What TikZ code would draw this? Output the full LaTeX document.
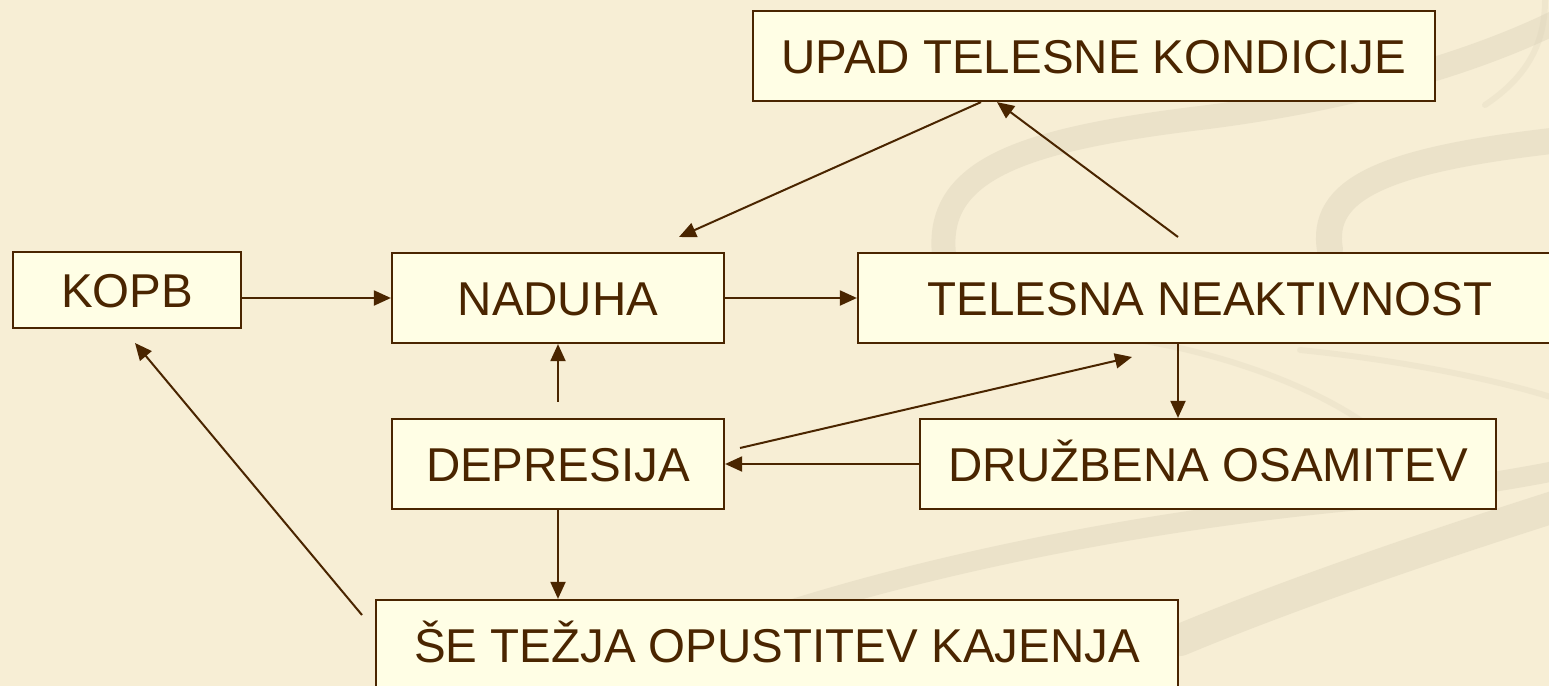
\documentclass[tikz,border=0pt]{standalone}
\usepackage{fontspec}
\setmainfont{Liberation Sans}
\usetikzlibrary{arrows.meta}
\definecolor{bg}{HTML}{F7EED5}
\definecolor{boxfill}{HTML}{FFFEE5}
\definecolor{ink}{HTML}{4A2500}
\definecolor{swooshc}{HTML}{D9D1B9}
\tikzset{
  box/.style={draw=ink, fill=boxfill, line width=1.1pt, text=ink, inner sep=0pt,
    font=\fontsize{23.75}{28}\selectfont, text height=17pt, text depth=0pt,
    minimum height=45pt},
  conn/.style={draw=ink, line width=1pt, -{Triangle[length=8.5pt,width=7.5pt]}},
  swoosh/.style={draw=swooshc, line cap=round, opacity=0.4},
}
\begin{document}
\begin{tikzpicture}[x=0.5pt,y=-0.5pt]
\useasboundingbox (0,0) rectangle (1549,686);
\clip (0,0) rectangle (1549,686);
\fill[bg] (0,0) rectangle (1549,686);
% background swooshes
\draw[swoosh, line width=12pt] (945,262) .. controls (930,170) and (1020,140) .. (1200,118) .. controls (1380,96) and (1500,50) .. (1560,20);
\draw[swoosh, line width=13pt] (1330,250) .. controls (1320,190) and (1380,160) .. (1560,140);
\draw[swoosh, line width=3pt, opacity=0.25] (1485,105) .. controls (1530,75) and (1545,40) .. (1545,0);
\draw[swoosh, line width=3pt, opacity=0.25] (1100,335) .. controls (1200,345) and (1300,380) .. (1360,420);
\draw[swoosh, line width=3pt, opacity=0.25] (1300,350) .. controls (1400,360) and (1500,380) .. (1560,400);
\draw[swoosh, line width=10pt] (790,610) .. controls (950,560) and (1150,520) .. (1360,500) .. controls (1450,490) and (1520,478) .. (1560,470);
\draw[swoosh, line width=16pt] (1180,640) .. controls (1300,590) and (1450,540) .. (1560,505);
% nodes
\node[box, minimum width=114pt, minimum height=38pt] (kopb) at (127,290) {KOPB};
\node[box, minimum width=166pt] (naduha) at (558,298) {NADUHA};
\node[box, minimum width=352pt] (telesna) at (1210,298) {TELESNA NEAKTIVNOST};
\node[box, minimum width=341pt] (upad) at (1094,56) {UPAD TELESNE KONDICIJE};
\node[box, minimum width=166pt] (depresija) at (558,464) {DEPRESIJA};
\node[box, minimum width=288pt] (druzbena) at (1208,464) {DRUŽBENA OSAMITEV};
\node[box, minimum width=401pt] (se) at (777,645) {ŠE TEŽJA OPUSTITEV KAJENJA};
% free ends
\coordinate (e3) at (679,237);
\coordinate (s4) at (1178,237);
\coordinate (s6) at (740,448);
\coordinate (e6) at (1132,357);
\coordinate (s10) at (362,615);
\coordinate (e10) at (135,343);
\coordinate (d8) at ([xshift=-15pt]druzbena.north);
% connectors
\draw[conn] (kopb.east |- naduha.west) -- (naduha.west);
\draw[conn] (naduha.east) -- (telesna.west);
\draw[conn] ([xshift=-56.5pt]upad.south) -- (e3);
\draw[conn] (s4) -- ([xshift=-48.5pt]upad.south);
\draw[conn] ([yshift=8pt]depresija.north) -- (naduha.south);
\draw[conn] (s6) -- (e6);
\draw[conn] (druzbena.west) -- (depresija.east);
\draw[conn] (telesna.south -| d8) -- (d8);
\draw[conn] (depresija.south) -- (se.north -| depresija.south);
\draw[conn] (s10) -- (e10);
\end{tikzpicture}
\end{document}
